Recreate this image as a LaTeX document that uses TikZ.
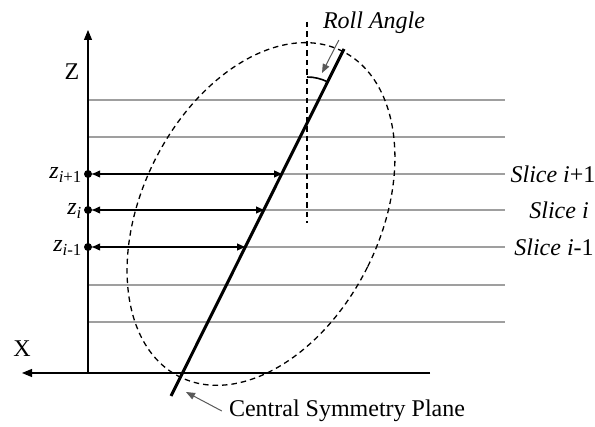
\documentclass[tikz,border=0pt]{standalone}
\usepackage{fontspec}
\setmainfont{Liberation Serif}
\usetikzlibrary{arrows.meta,calc}

\begin{document}
\begin{tikzpicture}[
    x=1pt, y=-1pt,
    lbl/.style={font=\fontsize{24}{28}\selectfont, inner sep=1pt},
    sub/.style={font=\fontsize{24}{28}\selectfont\itshape, inner sep=1pt, anchor=east},
    slice/.style={draw=gray!75, line width=1.2pt},
    axis/.style={line width=1.1pt, -{Triangle[length=10pt,width=8pt]}},
    dot/.style={circle, fill, inner sep=0pt, minimum size=8pt},
    dist/.style={line width=1.2pt, {Triangle[length=8pt,width=7pt]}-{Triangle[length=8pt,width=7pt]}},
    plane/.style={line width=3pt},
    guide/.style={dashed, dash pattern=on 5.5pt off 4pt, line width=1.3pt},
    note/.style={draw=gray!70!black, line width=1pt, -{Triangle[length=9pt,width=7pt]}}
]
\useasboundingbox (0,0) rectangle (595,427);

\coordinate (o) at (88,373);
\coordinate (ztip) at (88,30);
\coordinate (xend) at (430,373);
\coordinate (xtip) at (22,373);

% slices
\foreach \y in {100,137,174,210,247,285,322}
    \draw[slice] (88,\y) -- (505,\y);

\draw[axis] (o) -- (ztip);
\draw[axis] (xend) -- (xtip);
\node[lbl] (zlab) at (72,72) {Z};
\node[lbl] (xlab) at (22,349) {X};

% ellipse and plane
\coordinate (c) at (261,214);
\draw[guide, rotate around={-26.5:(c)}] (c) ellipse [x radius=119, y radius=182];
\coordinate (pb) at (171,396);
\coordinate (pt) at (344,49);
\draw[plane] (pb) -- (pt);

\coordinate (vt) at (307,22);
\coordinate (vb) at (307,223);
\draw[guide] (vt) -- (vb);
\coordinate (ra) at (307,77);
\draw[line width=1.6pt] (ra) arc[start angle=-90, end angle=-63.5, radius=46];

% distances to the plane
\node[dot] (d1) at (88,174) {};
\node[dot] (d2) at (88,210) {};
\node[dot] (d3) at (88,247) {};
\coordinate (p1) at (282,174);
\coordinate (p2) at (264,210);
\coordinate (p3) at (245,247);
\draw[dist] (d1.east) -- (p1);
\draw[dist] (d2.east) -- (p2);
\draw[dist] (d3.east) -- (p3);

\node[sub] (z1) at (83,175) {z\textsubscript{i\upshape +1}};
\node[sub] (z2) at (83,211) {z\textsubscript{i}};
\node[sub] (z3) at (83,248) {z\textsubscript{i\upshape -1}};

\node[lbl] (s1) at (553,174) {\textit{Slice i}+1};
\node[lbl] (s2) at (559,210) {\textit{Slice i}};
\node[lbl] (s3) at (554,247) {\textit{Slice i}-1};

% labels with pointers
\node[lbl, font=\fontsize{24}{28}\selectfont\itshape] (roll) at (374,23) {Roll Angle};
\coordinate (rp) at (322,73);
\draw[note] ($(roll.south west)+(17,5)$) -- (rp);

\node[lbl] (csp) at (347,411) {Central Symmetry Plane};
\coordinate (cp) at (186,392);
\draw[note] ([xshift=-6pt]csp.west) -- (cp);
\end{tikzpicture}
\end{document}
